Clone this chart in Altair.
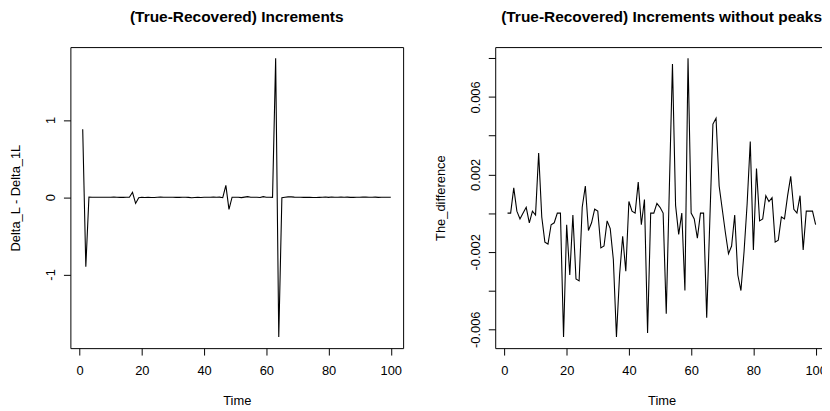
import altair as alt
import pandas as pd
import numpy as np

# ---------------- data ----------------
time = list(range(1, 101))

# (True-Recovered) increments without peaks  (right panel)
diff_no_peaks = [
    0.0, 0.0, 0.0013, 0.0001, -0.0003, 0.0, 0.0003, -0.0005, 0.0001, -0.0001,
    0.0031, -0.0002, -0.0015, -0.0016, -0.0006, -0.0005, 0.0, 0.0, -0.0064, -0.0006,
    -0.0032, -0.0001, -0.0034, -0.0035, 0.0003, 0.0014, -0.0009, -0.0005, 0.0002, 0.0001,
    -0.0018, -0.0017, -0.0004, -0.0008, -0.0024, -0.0064, -0.0032, -0.0012, -0.0030, 0.0006,
    0.0001, 0.0, 0.0016, -0.0006, 0.0007, -0.0062, 0.0, 0.0, 0.0005, 0.0003,
    0.0, -0.0052, 0.0013, 0.0077, 0.0004, -0.0011, 0.0, -0.0040, 0.0080, 0.0,
    -0.0003, -0.0013, 0.0, 0.0, -0.0054, -0.0004, 0.0046, 0.0049, 0.0014, 0.0002,
    -0.0010, -0.0021, -0.0017, -0.0001, -0.0032, -0.0040, -0.0020, 0.0005, 0.0037, -0.0019,
    0.0023, -0.0004, -0.0003, 0.0009, 0.0006, 0.0008, -0.0015, -0.0014, -0.0002, -0.0003,
    0.0009, 0.0019, 0.0002, 0.0, 0.0009, -0.0019, 0.0001, 0.0001, 0.0001, -0.0006,
]

# peaks present in the full series (left panel)
peak_times = [1, 2, 17, 18, 47, 48, 63, 64]
peak_values = [0.88, -0.90, 0.064, -0.08, 0.154, -0.158, 1.80, -1.81]

x_ticks = [0, 20, 40, 60, 80, 100]
x_tick_labels = ["0", "20", "40", "60", "80", "100"]
left_y_ticks = [-1, 0, 1]
left_y_labels = ["-1", "0", "1"]
right_y_ticks = [-0.006, -0.004, -0.002, 0.0, 0.002, 0.004, 0.006, 0.008]
right_y_labels = ["-0.006", "", "-0.002", "", "0.002", "", "0.006", ""]

titles = ["(True-Recovered) Increments", "(True-Recovered) Increments without peaks"]
y_titles = ["Delta_L - Delta_1L", "The_difference"]
x_title = "Time"

# ---------------- build tables ----------------
full = list(diff_no_peaks)
for t, v in zip(peak_times, peak_values):
    full[t - 1] = v

df_left = pd.DataFrame({"Time": time, "value": full})
df_right = pd.DataFrame({"Time": time, "value": diff_no_peaks})

FONT = "Liberation Sans"
W, H = 336, 304


def r_range(vals):
    lo, hi = float(np.min(vals)), float(np.max(vals))
    pad = 0.04 * (hi - lo)
    return [lo - pad, hi + pad]


def label_expr(values, labels):
    expr = "''"
    for v, l in zip(values, labels):
        expr = f"(datum.value == {v} ? '{l}' : {expr})"
    return expr


def panel(df, title, ytitle, yticks, ylabels):
    xdom = r_range(df["Time"])
    ydom = r_range(df["value"])
    return (
        alt.Chart(df)
        .mark_line(color="black", strokeWidth=1.1)
        .encode(
            x=alt.X(
                "Time:Q",
                scale=alt.Scale(domain=xdom, nice=False, zero=False),
                axis=alt.Axis(
                    values=x_ticks,
                    labelExpr=label_expr(x_ticks, x_tick_labels),
                    title=x_title,
                    labelBaseline="alphabetic",
                    labelPadding=20,
                    titleX=W / 2,
                    titleY=57,
                    titleBaseline="alphabetic",
                    titleAlign="center",
                ),
            ),
            y=alt.Y(
                "value:Q",
                scale=alt.Scale(domain=ydom, nice=False, zero=False),
                axis=alt.Axis(
                    values=yticks,
                    labelExpr=label_expr(yticks, ylabels),
                    title=ytitle,
                    labelAngle=270,
                    labelAlign="center",
                    labelBaseline="alphabetic",
                    labelPadding=9,
                    titleAngle=270,
                    titleAlign="center",
                    titleBaseline="alphabetic",
                    titleX=-51,
                    titleY=H / 2,
                ),
            ),
        )
        .properties(
            width=W,
            height=H,
            title=alt.TitleParams(
                title,
                font=FONT,
                fontSize=15.6,
                fontWeight="bold",
                color="black",
                anchor="middle",
                baseline="alphabetic",
                offset=10,
            ),
        )
    )


left = panel(df_left, titles[0], y_titles[0], left_y_ticks, left_y_labels)
right = panel(df_right, titles[1], y_titles[1], right_y_ticks, right_y_labels)

chart = (
    alt.hconcat(left, right, spacing=93, bounds="flush")
    .properties(
        autosize=alt.AutoSizeParams(type="none"),
        padding={"left": 63, "top": 36, "right": 759, "bottom": 367},
    )
    .configure_view(stroke="black", strokeWidth=1)
    .configure_axis(
        domain=False,
        grid=False,
        ticks=True,
        tickColor="black",
        tickSize=7,
        tickWidth=1,
        labelFont=FONT,
        labelFontSize=13,
        labelColor="black",
        titleFont=FONT,
        titleFontSize=13,
        titleFontWeight="normal",
        titleColor="black",
        labelOverlap=False,
    )
)

chart.save("out.html", embed_options={"renderer": "svg", "actions": False})
